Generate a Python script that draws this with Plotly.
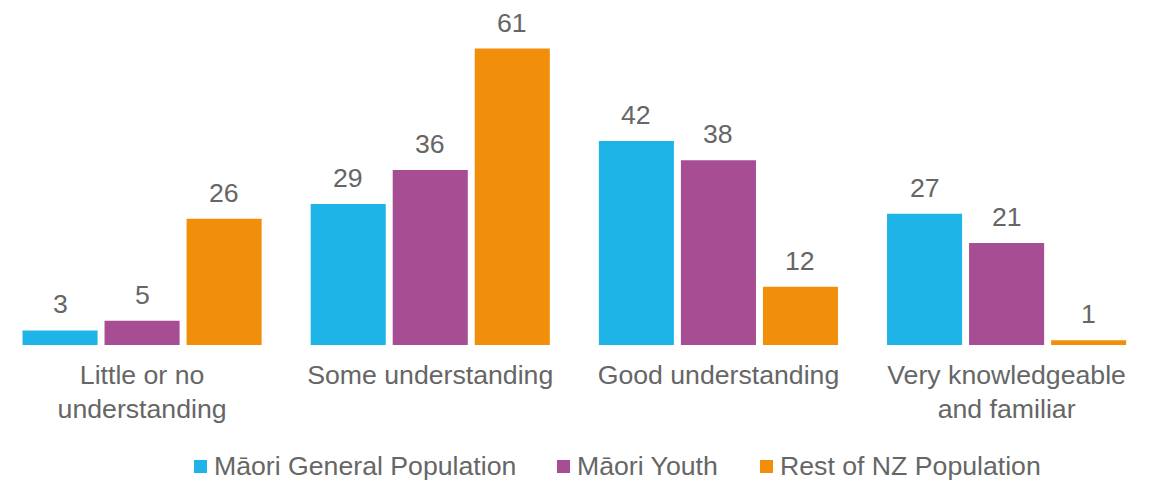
import plotly.graph_objects as go

categories = ["Little or no<br>understanding", "Some understanding",
              "Good understanding", "Very knowledgeable<br>and familiar"]
series_names = ["Māori General Population", "Māori Youth", "Rest of NZ Population"]
maori_general = [3, 29, 42, 27]
maori_youth = [5, 36, 38, 21]
rest_of_nz = [26, 61, 12, 1]

colors = ["#1EB4E8", "#A64D94", "#F18F0A"]
text_color = "#666666"
font_family = "Liberation Sans, Arial, sans-serif"
font_size = 26.67

W, H = 1153, 480
plot_bottom_px = 345  # pixel row of the bar baseline
bargap = 0.146
bargroupgap = 0.085
all_series = [maori_general, maori_youth, rest_of_nz]

fig = go.Figure()
for name, vals, col in zip(series_names, all_series, colors):
    fig.add_trace(go.Bar(
        x=categories, y=vals, name=name,
        marker=dict(color=col, line=dict(width=0)),
        cliponaxis=False, showlegend=False,
    ))

# value labels above each bar, placed at the grouped-bar slot centres
slot = (1 - bargap) / len(all_series)
annotations = []
for j, vals in enumerate(all_series):
    offset = (j - (len(all_series) - 1) / 2) * slot
    for i, v in enumerate(vals):
        annotations.append(dict(
            x=i + offset, y=v, xref="x", yref="y",
            text=str(v), showarrow=False,
            yanchor="middle", yshift=26,
            font=dict(size=font_size, color=text_color, family=font_family),
        ))

# legend row below the axis: small square swatch followed by the series name
legend_left_px = [194, 557, 760]
legend_square_px = 13
legend_center_px = 466.5
shapes = []


def px_to_paper_y(py):
    return (plot_bottom_px - py) / plot_bottom_px


for name, col, lx in zip(series_names, colors, legend_left_px):
    shapes.append(dict(
        type="rect", xref="paper", yref="paper",
        x0=lx / W, x1=(lx + legend_square_px) / W,
        y0=px_to_paper_y(legend_center_px + legend_square_px / 2),
        y1=px_to_paper_y(legend_center_px - legend_square_px / 2),
        fillcolor=col, line=dict(width=0),
    ))
    annotations.append(dict(
        x=(lx + legend_square_px + 6) / W, y=px_to_paper_y(legend_center_px - 1),
        xref="paper", yref="paper", xanchor="left", yanchor="middle",
        text=name, showarrow=False, borderpad=0,
        font=dict(size=font_size, color=text_color, family=font_family),
    ))

fig.update_layout(
    width=W, height=H,
    margin=dict(l=0, r=0, t=0, b=H - plot_bottom_px),
    paper_bgcolor="white", plot_bgcolor="white",
    barmode="group", bargap=bargap, bargroupgap=bargroupgap,
    font=dict(family=font_family, size=font_size, color=text_color),
    showlegend=False,
    xaxis=dict(showgrid=False, showline=False, ticks="", range=[-0.493, 3.508],
               tickfont=dict(size=font_size, color=text_color),
               ticklabelstandoff=11),
    yaxis=dict(range=[0, 71], visible=False),
    annotations=annotations,
    shapes=shapes,
)
fig.write_html("out.html")
